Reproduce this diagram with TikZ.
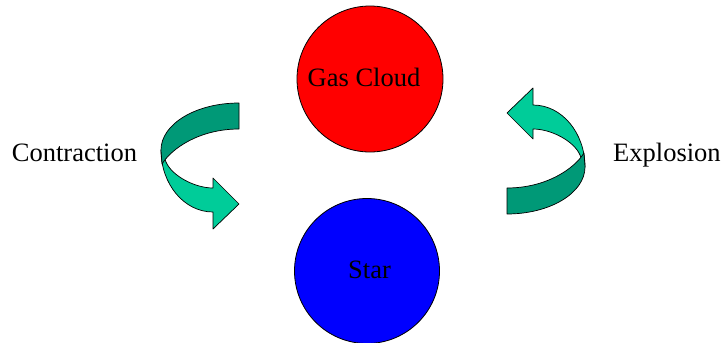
\documentclass[tikz,border=0pt]{standalone}
\usepackage{fontspec}
\setmainfont{Liberation Serif}
\definecolor{bandfront}{RGB}{0,204,153}
\definecolor{bandback}{RGB}{0,153,119}
\tikzset{
  body/.style={circle, draw=black, line width=0.8pt, inner sep=0pt, minimum size=#1},
  caption/.style={anchor=base, inner sep=0pt, font=\fontsize{26.5}{30}\selectfont},
  front/.style={fill=bandfront, draw=black, line width=0.7pt, line join=round},
  back/.style={fill=bandback, draw=black, line width=0.7pt, line join=round},
}
% one curved arrow: the back band on top, the front band turning into the head
\newcommand{\curvedarrow}{%
  \path[front] (161,150) .. controls (161,184) and (184,212) .. (213,212)
    -- (213,229) -- (239,204) -- (213,178) -- (213,188)
    .. controls (195,188) and (172,176) .. (166,162) -- cycle;
  \path[back] (239,103) .. controls (196,103) and (161,124) .. (161,150)
    -- (162,164) .. controls (172,148) and (200,129) .. (239,129) -- cycle;
}
\begin{document}
\begin{tikzpicture}[x=1pt,y=-1pt]
  \useasboundingbox (0,0) rectangle (724,343);
  \fill[white] (0,0) rectangle (724,343);

  \node[body=146pt, fill=red] (cloud) at (370,79) {};
  \node[caption] (cloudtext) at (364,86) {Gas Cloud};

  \node[body=145pt, fill=blue] (star) at (367,271) {};
  \node[caption] (startext) at (369.5,278) {Star};

  \curvedarrow
  \begin{scope}[rotate around={180:(373,158.5)}]
    \curvedarrow
  \end{scope}

  \node[caption, anchor=base west] (contraction) at (11.7,161.7) {Contraction};
  \node[caption, anchor=base west] (explosion) at (613,161.7) {Explosion};
\end{tikzpicture}
\end{document}
